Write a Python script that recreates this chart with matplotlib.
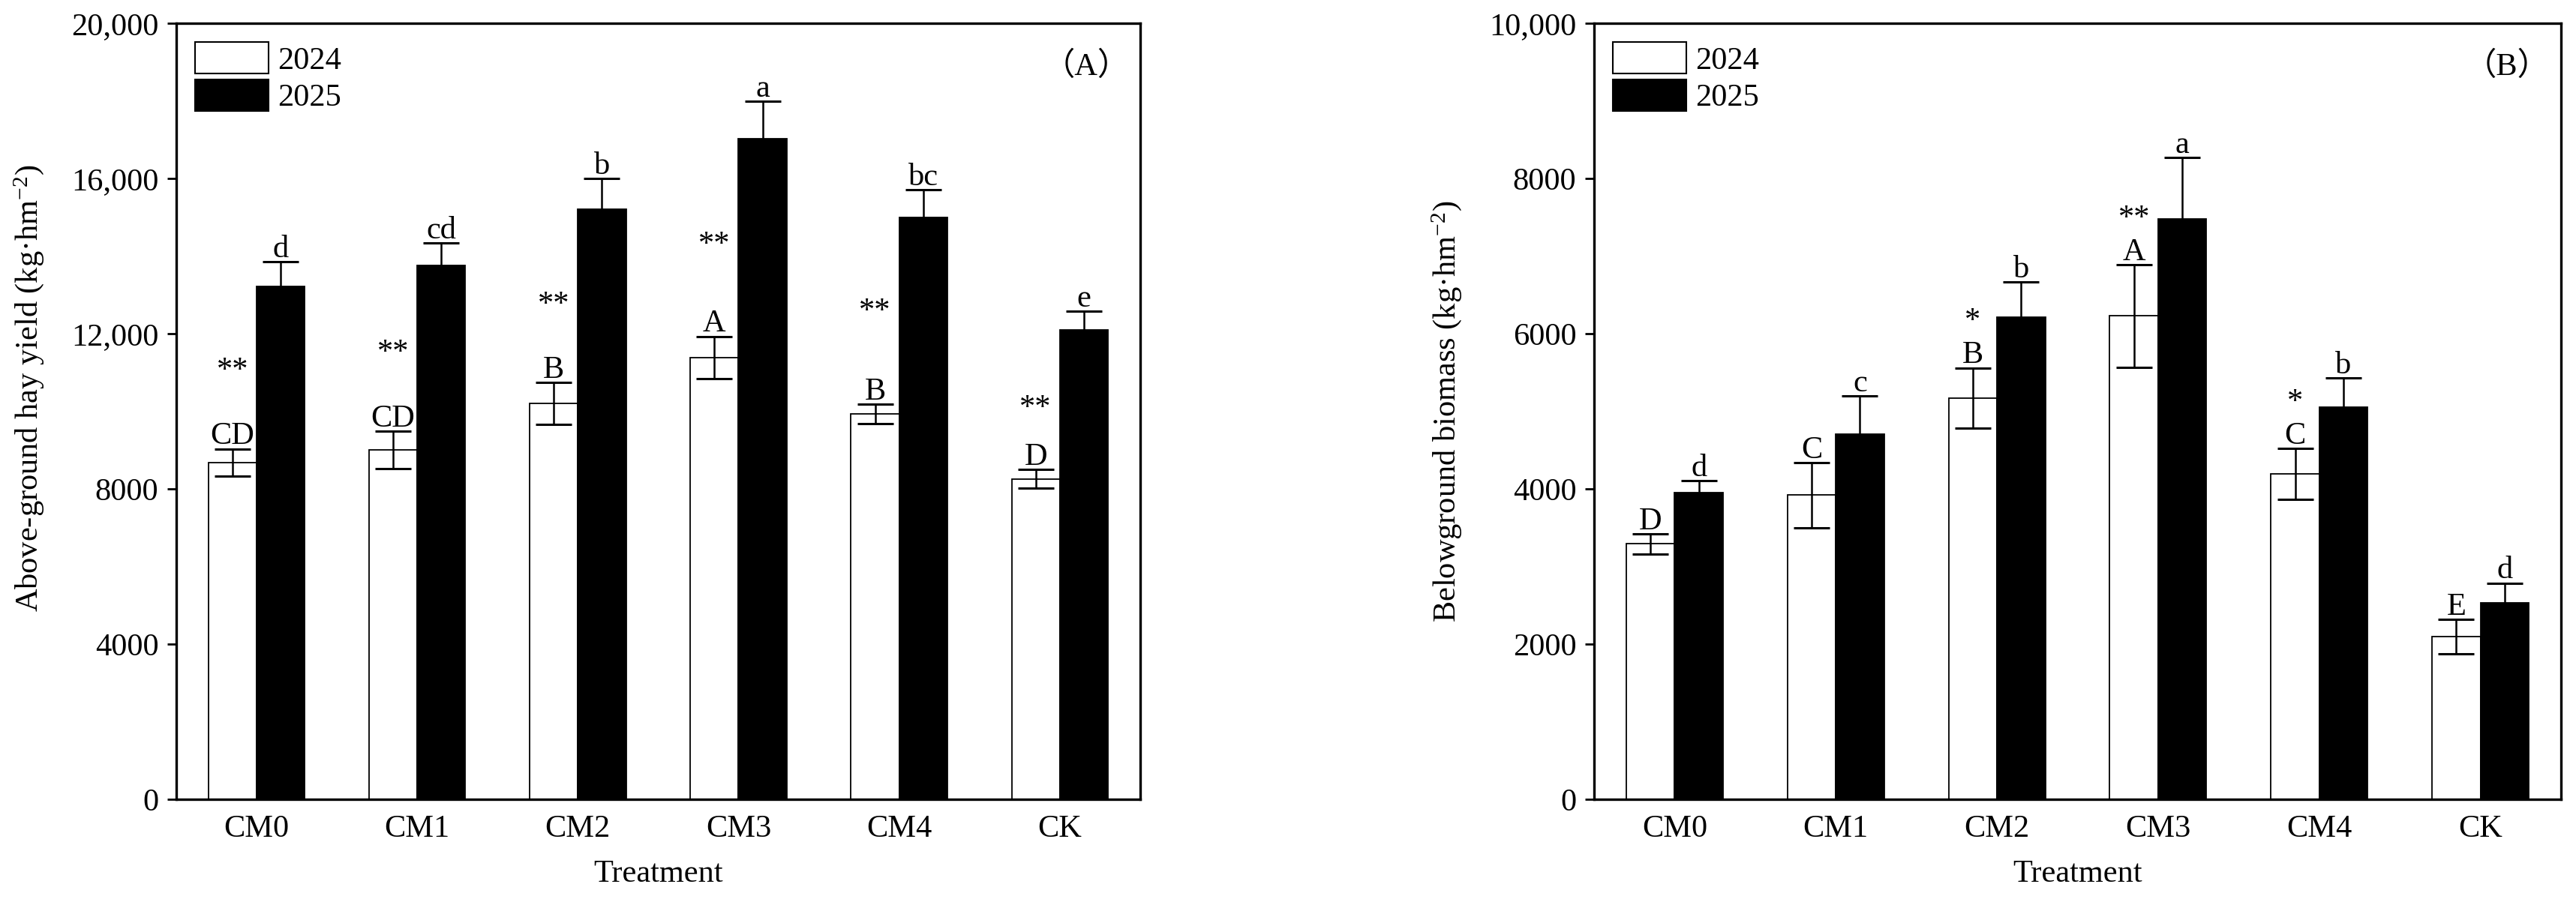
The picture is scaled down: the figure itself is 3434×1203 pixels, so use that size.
import numpy as np
import matplotlib
matplotlib.use("Agg")
import matplotlib.pyplot as plt
from matplotlib.patches import Patch

plt.rcParams['font.family'] = ['Liberation Serif', 'Noto Sans CJK SC', 'DejaVu Sans']
plt.rcParams['mathtext.fontset'] = 'custom'
plt.rcParams['mathtext.rm'] = 'Liberation Serif'
plt.rcParams['mathtext.it'] = 'Liberation Serif:italic'
plt.rcParams['mathtext.bf'] = 'Liberation Serif:bold'

# ---------------- data ----------------
treatments = ["CM0", "CM1", "CM2", "CM3", "CM4", "CK"]
years = ["2024", "2025"]

# Panel A: above-ground hay yield
hay_2024 = [8680, 9000, 10200, 11390, 9930, 8260]
hay_2024_err = [350, 480, 540, 540, 250, 240]
hay_2025 = [13220, 13750, 15200, 17020, 14990, 12090]
hay_2025_err = [640, 580, 800, 970, 720, 490]
hay_letters_2024 = ["CD", "CD", "B", "A", "B", "D"]
hay_letters_2025 = ["d", "cd", "b", "a", "bc", "e"]
hay_sig = ["**", "**", "**", "**", "**", "**"]
hay_ticks = [0, 4000, 8000, 12000, 16000, 20000]
hay_ticklabels = ["0", "4000", "8000", "12,000", "16,000", "20,000"]

# Panel B: belowground biomass
bgb_2024 = [3290, 3920, 5170, 6230, 4190, 2095]
bgb_2024_err = [130, 420, 390, 660, 330, 220]
bgb_2025 = [3955, 4705, 6215, 7480, 5050, 2535]
bgb_2025_err = [150, 490, 450, 790, 380, 250]
bgb_letters_2024 = ["D", "C", "B", "A", "C", "E"]
bgb_letters_2025 = ["d", "c", "b", "a", "b", "d"]
bgb_sig = ["", "", "*", "**", "*", ""]
bgb_ticks = [0, 2000, 4000, 6000, 8000, 10000]
bgb_ticklabels = ["0", "2000", "4000", "6000", "8000", "10,000"]

FS = 30.5
W = 0.30

fig = plt.figure(figsize=(34.34, 12.03), dpi=100)
axA = fig.add_axes([0.0684, 0.1139, 0.3742, 0.8603])
axB = fig.add_axes([0.6188, 0.1139, 0.3754, 0.8603])


def draw(ax, v24, e24, v25, e25, l24, l25, sig, ticks, ticklabels, ymax,
         ylabel, panel, star_mode):
    x = np.arange(len(treatments))
    xw = x - W / 2
    xb = x + W / 2
    ax.bar(xw, v24, W, color="white", edgecolor="black", linewidth=1.3, zorder=2)
    ax.bar(xb, v25, W, color="black", edgecolor="black", linewidth=1.3, zorder=2)
    ax.errorbar(xw, v24, yerr=e24, fmt="none", ecolor="black", elinewidth=1.8,
                capsize=17, capthick=2.2, zorder=3)
    ax.errorbar(xb, v25, yerr=e25, fmt="none", ecolor="black", elinewidth=1.8,
                capsize=17, capthick=2.2, zorder=3)
    for i in range(len(x)):
        ax.annotate(l24[i], xy=(xw[i], v24[i] + e24[i]), xytext=(0, 4.5),
                    textcoords="offset points", ha="center", va="baseline",
                    fontsize=FS)
        ax.annotate(l25[i], xy=(xb[i], v25[i] + e25[i]), xytext=(0, 4.5),
                    textcoords="offset points", ha="center", va="baseline",
                    fontsize=FS)
        if sig[i]:
            if star_mode == "mid":
                ax.annotate(sig[i], xy=(xw[i], 0.855 * v25[i]), xytext=(0, -17),
                            textcoords="offset points", ha="center",
                            va="baseline", fontsize=FS)
            else:
                ax.annotate(sig[i], xy=(xw[i], v24[i] + e24[i]), xytext=(0, 37),
                            textcoords="offset points", ha="center",
                            va="baseline", fontsize=FS)
    ax.set_xlim(-0.5, len(x) - 0.5)
    ax.set_ylim(0, ymax)
    ax.set_xticks(x)
    ax.set_xticklabels(treatments, fontsize=FS)
    ax.set_yticks(ticks)
    ax.set_yticklabels(ticklabels, fontsize=FS)
    ax.tick_params(axis="x", length=0, pad=15)
    ax.tick_params(axis="y", direction="out", length=9, width=2, pad=8)
    for s in ax.spines.values():
        s.set_linewidth(2.4)
    ax.set_xlabel("Treatment", fontsize=FS, labelpad=15)
    ax.set_ylabel(ylabel, fontsize=FS)
    ax.text(0.944, 0.944, panel, transform=ax.transAxes, ha="center",
            va="center", fontsize=FS)
    handles = [Patch(facecolor="white", edgecolor="black", linewidth=1.5),
               Patch(facecolor="black", edgecolor="black", linewidth=1.5)]
    ax.legend(handles, years, loc="upper left", frameon=False, fontsize=FS,
              handlelength=2.3, handleheight=1.15, labelspacing=0.12,
              handletextpad=0.3, borderpad=0.3, borderaxespad=0.3)


draw(axA, hay_2024, hay_2024_err, hay_2025, hay_2025_err, hay_letters_2024,
     hay_letters_2025, hay_sig, hay_ticks, hay_ticklabels, 20000,
     r"Above-ground hay yield (kg·hm$^{-2}$)", "（A）", "mid")
draw(axB, bgb_2024, bgb_2024_err, bgb_2025, bgb_2025_err, bgb_letters_2024,
     bgb_letters_2025, bgb_sig, bgb_ticks, bgb_ticklabels, 10000,
     r"Belowground biomass (kg·hm$^{-2}$)", "（B）", "above")

# y-label positions
axA.yaxis.set_label_coords(-0.135, 0.53)
axB.yaxis.set_label_coords(-0.135, 0.50)

fig.savefig("out.png", dpi=100)
